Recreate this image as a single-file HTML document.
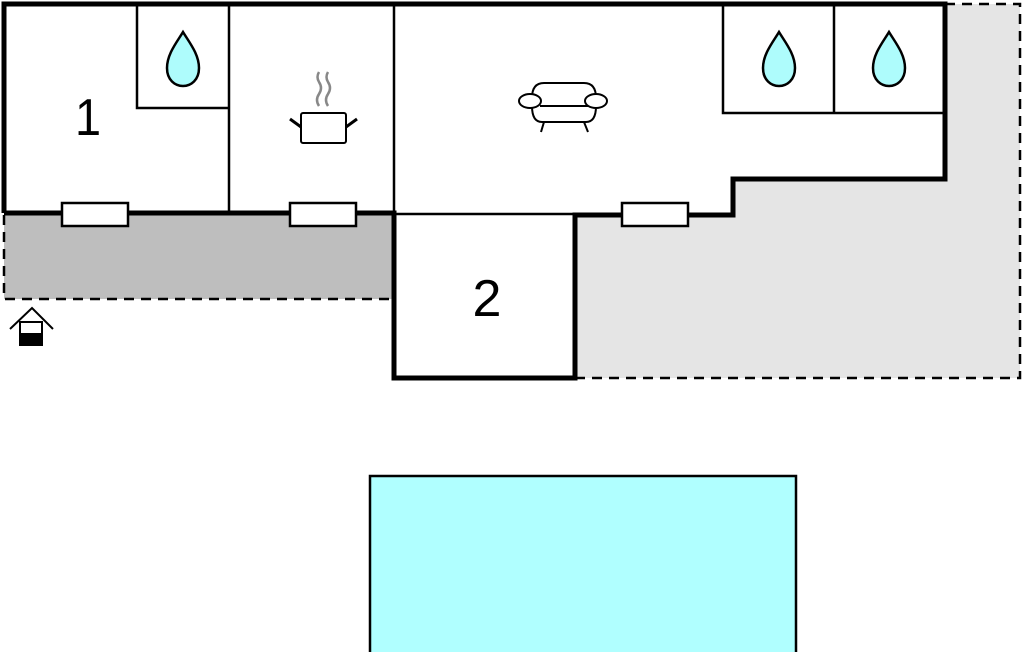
<!DOCTYPE html>
<html><head><style>html,body{margin:0;padding:0;background:#fff;}svg{display:block}</style></head>
<body>
<svg width="1023" height="652" viewBox="0 0 1023 652" xmlns="http://www.w3.org/2000/svg">
<defs>
<path id="drop" d="M0,-28 C-6,-18 -16,-6 -16,8 C-16,20 -8,26 0,26 C8,26 16,20 16,8 C16,-6 6,-18 0,-28 Z" fill="#aefcfc" stroke="#000" stroke-width="2.5"/>
</defs>
<polygon points="945,4 1020,4 1020,378 575,378 575,215 733,215 733,179 945,179" fill="#e5e5e5"/>
<polyline points="945,4 1020,4 1020,378 575,378" fill="none" stroke="#000" stroke-width="2.5" stroke-dasharray="10,7"/>
<rect x="4" y="215" width="388" height="84" fill="#bebebe"/>
<polyline points="4,215 4,299 392,299" fill="none" stroke="#000" stroke-width="2.5" stroke-dasharray="10,7"/>
<polygon points="4,4 945,4 945,179 733,179 733,215 575,215 575,378 394,378 394,213 4,213" fill="#fff"/>
<g stroke="#000" stroke-width="2.5" fill="none">
<line x1="229" y1="4" x2="229" y2="213"/>
<line x1="394" y1="4" x2="394" y2="213"/>
<polyline points="137,4 137,108 229,108"/>
<polyline points="723,4 723,113 945,113"/>
<line x1="834" y1="4" x2="834" y2="113"/>
<line x1="394" y1="214" x2="575" y2="214"/>
</g>
<polyline points="4,213 4,4 945,4 945,179 733,179 733,215 575,215 575,378 394,378 394,213 4,213" fill="none" stroke="#000" stroke-width="5"/>
<g fill="#fff" stroke="#000" stroke-width="2.5">
<rect x="62" y="203" width="66" height="23"/>
<rect x="290" y="203" width="66" height="23"/>
<rect x="622" y="203" width="66" height="23"/>
</g>
<use href="#drop" x="183" y="60"/>
<use href="#drop" x="779" y="60"/>
<use href="#drop" x="889" y="60"/>
<text x="88" y="135" font-family="Liberation Sans, sans-serif" font-size="52" text-anchor="middle" transform="translate(88 0) scale(0.9 1) translate(-88 0)">1</text>
<text x="487" y="316" font-family="Liberation Sans, sans-serif" font-size="52" text-anchor="middle">2</text>
<g stroke="#000" stroke-width="2" fill="#fff">
<path d="M319,106 q-4,-6 0,-12 q4,-6 0,-12 q-3,-5 0,-10" stroke="#888" stroke-width="2.5" fill="none"/>
<path d="M328,106 q-4,-6 0,-12 q4,-6 0,-12 q-3,-5 0,-10" stroke="#888" stroke-width="2.5" fill="none"/>
<rect x="301" y="113" width="45" height="30" rx="2"/>
<line x1="290" y1="119" x2="301" y2="127" stroke-width="3"/>
<line x1="357" y1="119" x2="346" y2="127" stroke-width="3"/>
</g>
<g stroke="#000" stroke-width="2" fill="#fff">
<path d="M532,98 q0,-15 12,-15 h40 q12,0 12,15 v8 q0,16 -10,16 h-44 q-10,0 -10,-16 Z"/>
<line x1="540" y1="106" x2="590" y2="106"/>
<ellipse cx="530" cy="101" rx="11" ry="7"/>
<ellipse cx="596" cy="101" rx="11" ry="7"/>
<line x1="544" y1="122" x2="541" y2="132"/>
<line x1="584" y1="122" x2="588" y2="132"/>
</g>
<g stroke="#000" stroke-width="2" fill="none">
<polyline points="10,329 32,308 53,329"/>
<rect x="20" y="322" width="22" height="23" fill="#fff"/>
<rect x="20" y="334" width="22" height="11" fill="#000"/>
</g>
<rect x="370" y="476" width="426" height="178" fill="#b0ffff" stroke="#000" stroke-width="2.5"/>
</svg>
</body></html>
